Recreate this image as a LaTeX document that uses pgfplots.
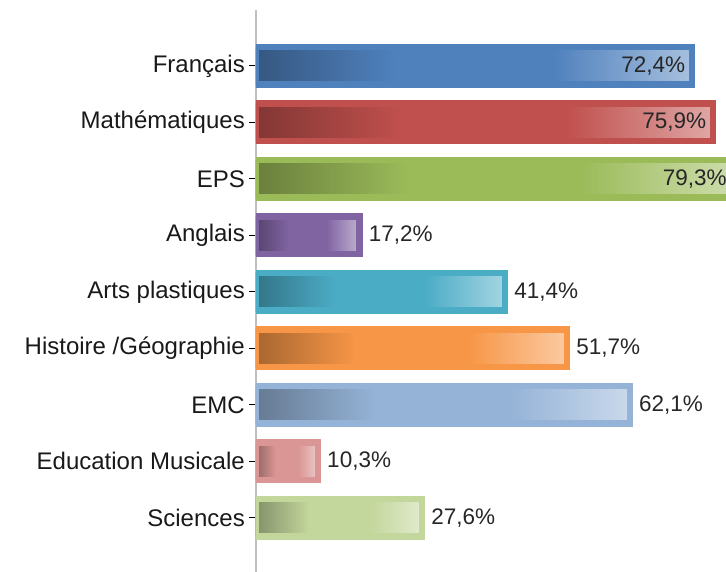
\documentclass[border=0pt]{standalone}
\usepackage{pgfplots}
\pgfplotsset{compat=1.18}
\usepackage{fontspec}
\setmainfont{Liberation Sans}

\definecolor{cfr}{HTML}{4F81BD}
\definecolor{cma}{HTML}{C0504D}
\definecolor{ceps}{HTML}{9BBB59}
\definecolor{can}{HTML}{8064A2}
\definecolor{car}{HTML}{4BACC6}
\definecolor{chi}{HTML}{F79646}
\definecolor{cemc}{HTML}{95B3D7}
\definecolor{cmu}{HTML}{D99694}
\definecolor{csc}{HTML}{C3D69B}

\newcommand\defshade[1]{%
  \pgfdeclarehorizontalshading{sh#1}{100bp}{%
    color(0bp)=(#1!68!black); color(25bp)=(#1!68!black); color(41bp)=(#1);
    color(59bp)=(#1); color(75bp)=(#1!50!white); color(100bp)=(#1!50!white)}}
\defshade{cfr}\defshade{cma}\defshade{ceps}\defshade{can}\defshade{car}
\defshade{chi}\defshade{cemc}\defshade{cmu}\defshade{csc}

\pgfplotsset{
  gbar/.style={xbar, bar shift=0pt, bar width=0.664, shade, shading=sh#1,
    draw=#1, line width=6.5pt, point meta=x},
  lin/.style={nodes near coords={\pgfmathprintnumber[fixed,fixed zerofill,precision=1,use comma,assume math mode=true]{\pgfplotspointmeta}\%},
    every node near coord/.append style={anchor=east, xshift=-3.5pt, inner sep=0pt, text=black!85, font=\fontsize{22.5}{26}\selectfont}},
  lout/.style={nodes near coords={\pgfmathprintnumber[fixed,fixed zerofill,precision=1,use comma,assume math mode=true]{\pgfplotspointmeta}\%},
    every node near coord/.append style={anchor=west, xshift=6pt, inner sep=0pt, text=black!85, font=\fontsize{22.5}{26}\selectfont}},
}

\begin{document}
\begin{tikzpicture}
\begin{axis}[
  name=ax, at={(0pt,0pt)}, anchor=south west,
  scale only axis, width=493.6pt, height=562pt,
  xmin=0, xmax=82, ymin=-0.99, ymax=8.96, y dir=reverse,
  axis x line=none, axis y line*=left,
  y axis line style={draw=black!25, line width=1.2pt},
  xtick=\empty,
  ytick={0,...,8},
  yticklabels={Français,Mathématiques,EPS,Anglais,Arts plastiques,Histoire /Géographie,EMC,Education Musicale,Sciences},
  tick align=outside, major tick length=7pt,
  tick style={black, line width=0.9pt},
  yticklabel style={font=\fontsize{24}{28}\selectfont, inner sep=0pt, xshift=-4pt, text=black!90},
  clip=true,
]
\addplot[gbar=cfr, lin] coordinates {(72.4,0)};
\addplot[gbar=cma, lin] coordinates {(75.9,1)};
\addplot[gbar=ceps, lin] coordinates {(79.3,2)};
\addplot[gbar=can, lout] coordinates {(17.2,3)};
\addplot[gbar=car, lout] coordinates {(41.4,4)};
\addplot[gbar=chi, lout] coordinates {(51.7,5)};
\addplot[gbar=cemc, lout] coordinates {(62.1,6)};
\addplot[gbar=cmu, lout] coordinates {(10.3,7)};
\addplot[gbar=csc, lout] coordinates {(27.6,8)};
\end{axis}
\pgfresetboundingbox
\path ([xshift=-256pt]ax.south west) rectangle ([xshift=470pt,yshift=572pt]ax.south west);
\end{tikzpicture}
\end{document}
